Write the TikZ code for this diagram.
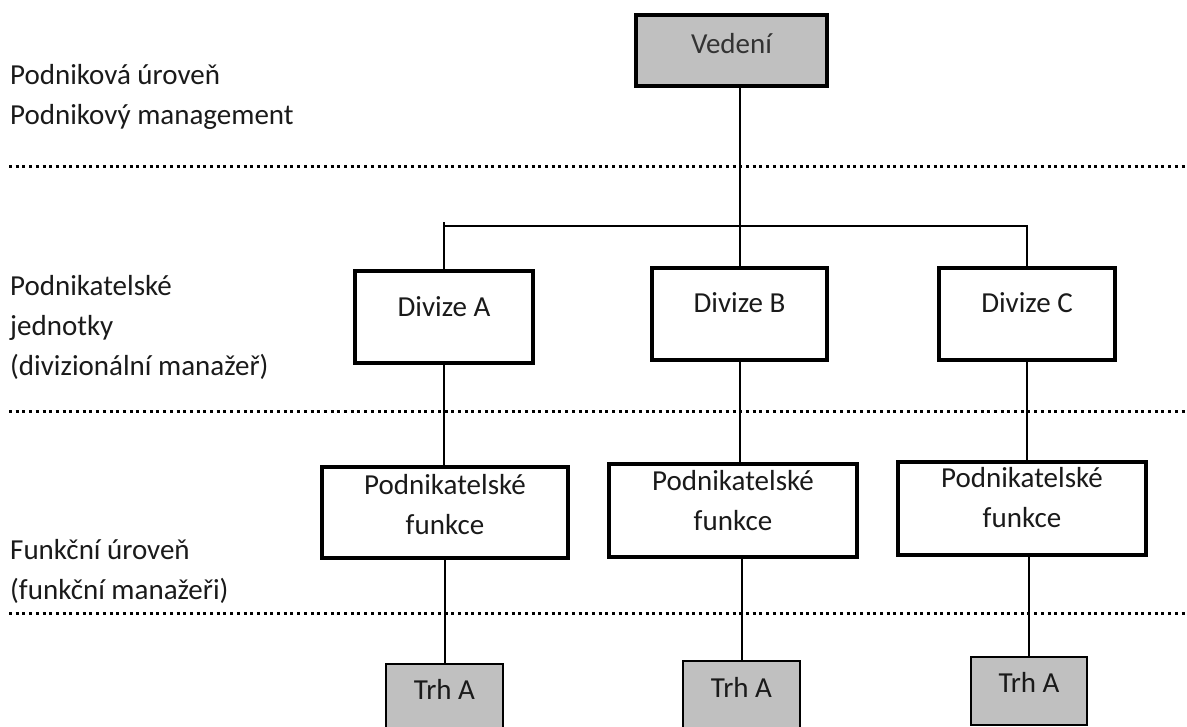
\documentclass[tikz,border=0pt]{standalone}
\usepackage{fontspec}
\setmainfont{Carlito}
\definecolor{ink}{HTML}{1A1A1A}
\definecolor{boxgray}{HTML}{C0C0C0}
\begin{document}
\begin{tikzpicture}[x=1pt,y=-1pt,
  every node/.style={font=\fontsize{29}{40}\selectfont, text=ink, inner sep=0pt},
  unitbox/.style={draw=black, line width=3.5pt, fill=white},
  topbox/.style={draw=black, line width=3.5pt, fill=boxgray},
  marketbox/.style={draw=black, line width=2pt, fill=boxgray},
  link/.style={draw=black, line width=2pt},
  levelsep/.style={draw=black, line width=3pt, dash pattern=on 3pt off 3.7pt},
  levellabel/.style={anchor=base west}]
\useasboundingbox (0,0) rectangle (1187,727);
\clip (0,0) rectangle (1187,727);

% level separators
\draw[levelsep] (9,167) -- (1187,167);
\draw[levelsep] (9,412) -- (1187,412);
\draw[levelsep] (9,613) -- (1187,613);

% level labels
\node[levellabel] (l1) at (10,85) {\begin{tabular}[t]{@{}l@{}}Podniková úroveň\\Podnikový management\end{tabular}};
\node[levellabel] (l2) at (10,296) {\begin{tabular}[t]{@{}l@{}}Podnikatelské\\jednotky\\(divizionální manažeř)\end{tabular}};
\node[levellabel] (l3) at (10,559) {\begin{tabular}[t]{@{}l@{}}Funkční úroveň\\(funkční manažeři)\end{tabular}};

% boxes
\node[topbox, minimum width=191, minimum height=71, text height=33, text depth=27, text=black!80] (ved) at (731.5,50.5) {Vedení};

\node[unitbox, minimum width=178, minimum height=92, text height=30, text depth=30] (dA) at (444,317) {Divize A};
\node[unitbox, minimum width=175, minimum height=92, text height=29, text depth=31] (dB) at (739.5,314) {Divize B};
\node[unitbox, minimum width=176, minimum height=92, text height=29, text depth=31] (dC) at (1027,314) {Divize C};

\node[unitbox, minimum width=246, minimum height=91, text height=11.5, text depth=48.5] (fA) at (445,512.5) {\begin{tabular}[t]{@{}c@{}}Podnikatelské\\funkce\end{tabular}};
\node[unitbox, minimum width=248, minimum height=93, text height=10, text depth=50] (fB) at (733,510.5) {\begin{tabular}[t]{@{}c@{}}Podnikatelské\\funkce\end{tabular}};
\node[unitbox, minimum width=248, minimum height=93, text height=8.5, text depth=51.5] (fC) at (1022,508.5) {\begin{tabular}[t]{@{}c@{}}Podnikatelské\\funkce\end{tabular}};

\node[marketbox, minimum width=117, minimum height=68, text height=31, text depth=29] (tA) at (444.5,698) {Trh A};
\node[marketbox, minimum width=117, minimum height=68, text height=32, text depth=28] (tB) at (741.5,695) {Trh A};
\node[marketbox, minimum width=116, minimum height=68, text height=31, text depth=29] (tC) at (1029,691) {Trh A};

% connectors
\coordinate (bus) at (739.5,226);
\draw[link] (ved.south -| dB.north) -- (dB.north);
\draw[link] (dA.north) -- ([yshift=4pt]dA.north |- bus);
\draw[link] (dA.north |- bus) -- (dC.north |- bus) -- (dC.north);

\draw[link] (dA.south) -- (dA.south |- fA.north);
\draw[link] (dB.south) -- (dB.south |- fB.north);
\draw[link] (dC.south) -- (dC.south |- fC.north);

\draw[link] (fA.south -| tA.north) -- (tA.north);
\draw[link] (fB.south -| tB.north) -- (tB.north);
\draw[link] (fC.south -| tC.north) -- (tC.north);
\end{tikzpicture}
\end{document}
